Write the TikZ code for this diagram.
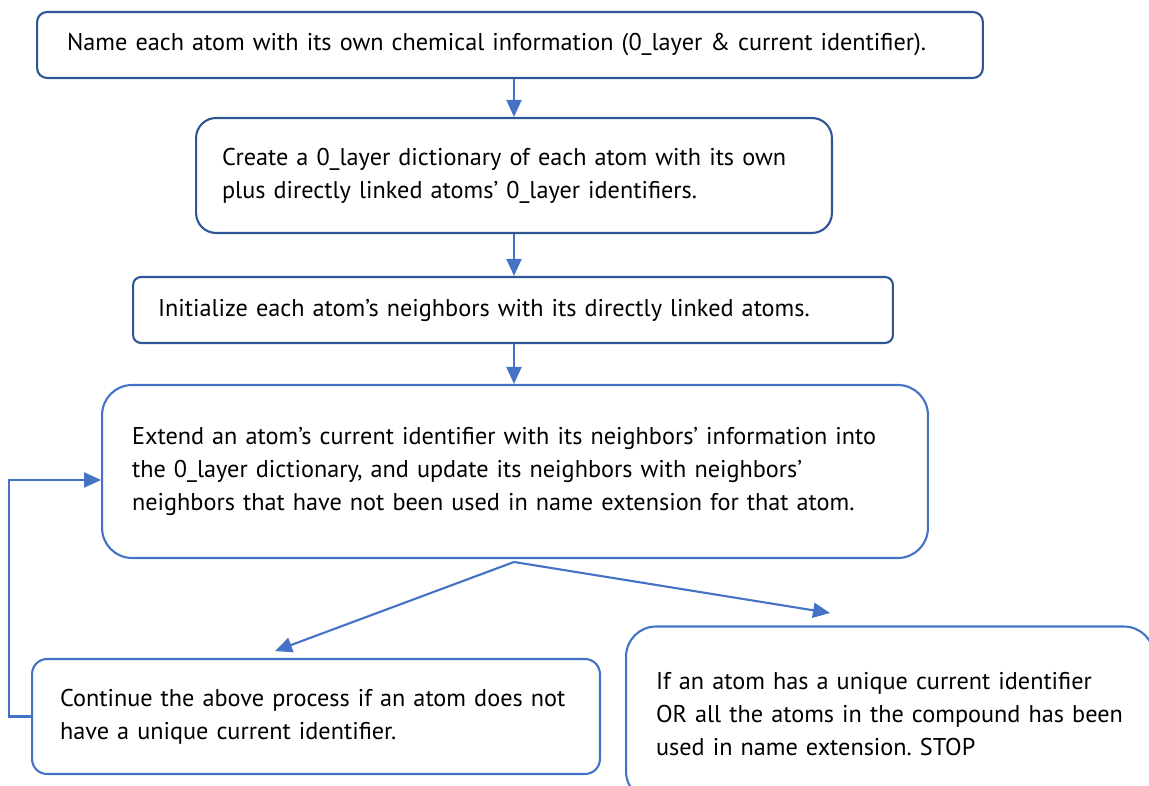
\documentclass[tikz,border=0pt]{standalone}
\usepackage{fontspec}
\setmainfont{PT Sans}
\usepackage{tikz}
\usetikzlibrary{arrows.meta, positioning, calc}
\definecolor{edgecol}{HTML}{2F5597}
\definecolor{flowcol}{HTML}{4472C4}
\frenchspacing

\begin{document}
\begin{tikzpicture}[x=0.02cm, y=-0.02cm,
    stepbox/.style={rectangle, draw=flowcol, line width=1.2pt, fill=white,
                    align=left, font=\fontsize{13.8}{18.8}\selectfont, text=black},
    flow/.style={draw=flowcol, line width=1.2pt,
                 -{Triangle[length=0.34cm, width=0.3cm]}}]
  \useasboundingbox (0,0) rectangle (1149,786);
  \clip (0,0) rectangle (1149,786);
  % steps, top to bottom
  \node[stepbox, draw=edgecol, rounded corners=0.2cm, minimum width=18.92cm,
        minimum height=1.32cm, inner xsep=0.6cm, text width=17.72cm]
    (name) at (510,45) {Name each atom with its own chemical information (0\_layer \& current identifier).};
  \node[stepbox, draw=edgecol, rounded corners=0.4cm, minimum width=12.72cm,
        minimum height=2.3cm, inner xsep=0.52cm, text width=11.68cm]
    (dict) at (514,175.5) {Create a 0\_layer dictionary of each atom with its own\\
                           plus directly linked atoms’ 0\_layer identifiers.};
  \node[stepbox, draw=edgecol, rounded corners=0.16cm, minimum width=15.2cm,
        minimum height=1.32cm, inner xsep=0.5cm, text width=14.2cm]
    (init) at (513,310) {Initialize each atom’s neighbors with its directly linked atoms.};
  \node[stepbox, rounded corners=0.6cm, minimum width=16.52cm,
        minimum height=3.46cm, inner xsep=0.6cm, text width=15.32cm]
    (extend) at (515,471.5) {Extend an atom’s current identifier with its neighbors’ information into\\
                             the 0\_layer dictionary, and update its neighbors with neighbors’\\
                             neighbors that have not been used in name extension for that atom.};
  \node[stepbox, rounded corners=0.3cm, minimum width=11.36cm,
        minimum height=2.3cm, inner xsep=0.56cm, text width=10.24cm]
    (again) at (316,716.5) {Continue the above process if an atom does not\\
                            have a unique current identifier.};
  \node[stepbox, rounded corners=0.6cm, minimum width=10.56cm,
        minimum height=3.5cm, inner xsep=0.6cm, text width=9.36cm]
    (stop) at (890,714) {If an atom has a unique current identifier\\
                         OR all the atoms in the compound has been\\
                         used in name extension. STOP};
  % connectors
  \draw[flow] (name.south -| dict.north) -- (dict.north);
  \draw[flow] (dict.south) -- (init.north -| dict.south);
  \draw[flow] (init.south -| dict.south) -- (extend.north -| dict.south);
  \coordinate (split) at (514,562);
  \coordinate (leftend) at (275,651);
  \coordinate (rightend) at (830,613);
  \draw[flow] (split) -- (leftend);
  \draw[flow] (split) -- (rightend);
  % loop back
  \draw[flow] (again.west) -- ++(-22,0) |- ([yshift=-0.17cm]extend.west);
\end{tikzpicture}
\end{document}
